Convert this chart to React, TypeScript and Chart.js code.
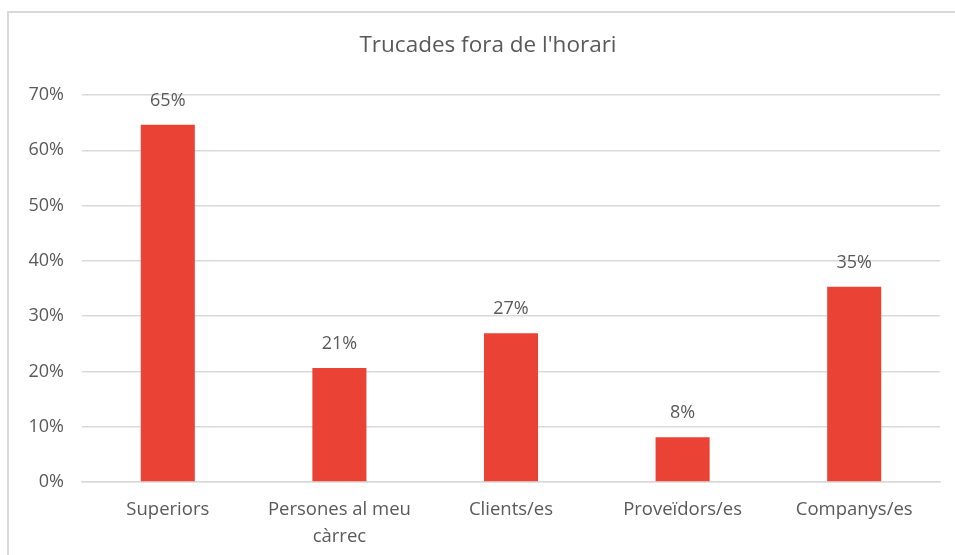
import React, { useEffect, useRef } from "react";
import { Chart, registerables } from "chart.js";

Chart.register(...registerables);

const title = "Trucades fora de l'horari";
const categories: (string | string[])[] = [
  "Superiors",
  ["Persones al meu", "càrrec"],
  "Clients/es",
  "Proveïdors/es",
  "Companys/es",
];
const values = [64.6, 20.6, 26.9, 8.1, 35.3];
const valueLabels = ["65%", "21%", "27%", "8%", "35%"];
const yTicks = [0, 10, 20, 30, 40, 50, 60, 70];

const TEXT = "#595959";
const GRID = "#d9d9d9";
const BAR = "#EA4335";
const FONT = "'Open Sans', 'Noto Sans', sans-serif";

export default function App() {
  const ref = useRef<HTMLCanvasElement | null>(null);

  useEffect(() => {
    if (!ref.current) return;
    const framePlugin = {
      id: "frame",
      beforeDraw(chart: any) {
        const ctx = chart.ctx;
        ctx.save();
        ctx.fillStyle = "#ffffff";
        ctx.fillRect(0, 0, chart.width, chart.height);
        ctx.strokeStyle = GRID;
        ctx.lineWidth = 2;
        ctx.beginPath();
        ctx.moveTo(8, chart.height + 5);
        ctx.lineTo(8, 12);
        ctx.lineTo(chart.width + 5, 12);
        ctx.stroke();
        ctx.fillStyle = TEXT;
        ctx.font = `22.5px ${FONT}`;
        ctx.textAlign = "center";
        ctx.textBaseline = "middle";
        ctx.fillText(title, 488, 46);
        ctx.restore();
      },
      afterDatasetsDraw(chart: any) {
        const ctx = chart.ctx;
        const meta = chart.getDatasetMeta(0);
        ctx.save();
        ctx.fillStyle = TEXT;
        ctx.font = `18px ${FONT}`;
        ctx.textAlign = "center";
        ctx.textBaseline = "middle";
        meta.data.forEach((bar: any, i: number) => {
          ctx.fillText(valueLabels[i], bar.x, bar.y - 24);
        });
        ctx.restore();
      },
    };

    const chart = new Chart(ref.current, {
      type: "bar",
      data: {
        labels: categories,
        datasets: [
          {
            data: values,
            backgroundColor: BAR,
            borderWidth: 0,
            barPercentage: 0.315,
            categoryPercentage: 1,
          },
        ],
      },
      options: {
        animation: false,
        responsive: false,
        maintainAspectRatio: false,
        layout: { padding: { top: 95, right: 15, left: 0, bottom: 0 } },
        plugins: {
          legend: { display: false },
          title: { display: false },
          tooltip: { enabled: false },
        },
        scales: {
          x: {
            grid: { display: false, drawTicks: false },
            border: { display: true, color: GRID, width: 1.5 },
            ticks: {
              color: TEXT,
              font: { family: FONT, size: 18.5, lineHeight: 1.45 },
              padding: 14,
              maxRotation: 0,
              autoSkip: false,
            },
            afterFit(scale: any) {
              scale.height = 73;
            },
          },
          y: {
            min: 0,
            max: 70,
            afterBuildTicks(scale: any) {
              scale.ticks = yTicks.map((v) => ({ value: v }));
            },
            grid: { color: GRID, lineWidth: 1.5, drawTicks: false },
            border: { display: false },
            ticks: {
              color: TEXT,
              font: { family: FONT, size: 18 },
              padding: 18,
              callback: (v: any) => `${v}%`,
            },
            afterFit(scale: any) {
              scale.width = 82;
            },
          },
        },
      },
      plugins: [framePlugin],
    });
    return () => chart.destroy();
  }, []);

  return (
    <div style={{ position: "absolute", left: 0, top: 0, width: 955, height: 555 }}>
      <canvas ref={ref} width={955} height={555} style={{ width: 955, height: 555 }} />
    </div>
  );
}
